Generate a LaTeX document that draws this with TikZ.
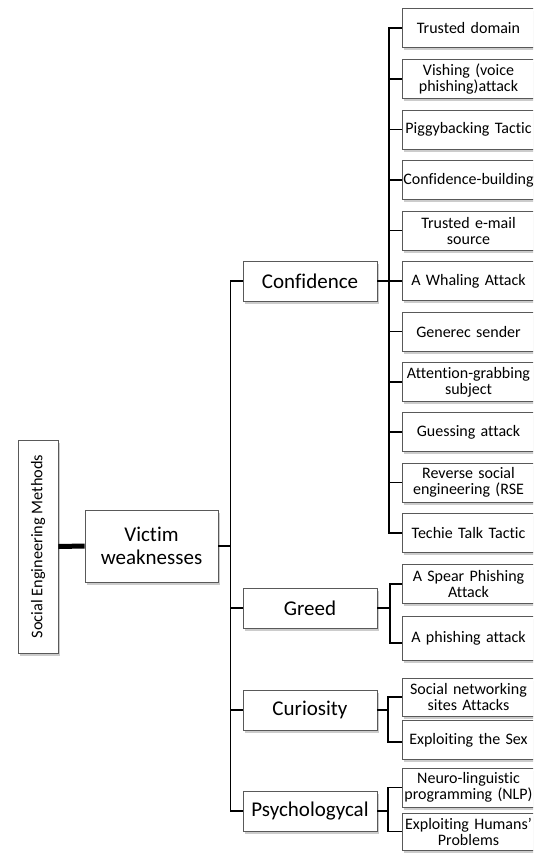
\documentclass[tikz,border=0pt]{standalone}
\usepackage{fontspec}
\setmainfont{Carlito}[Ligatures=NoCommon]
\usetikzlibrary{shadows}
\begin{document}
\begin{tikzpicture}[x=1pt,y=-1pt,
  box/.style={draw=black!65,line width=0.7pt,fill=white,align=center,inner sep=1pt,
    drop shadow={shadow xshift=2pt,shadow yshift=-2.5pt,fill=black!25,opacity=0.8}},
  rootbox/.style={box,minimum width=40pt,minimum height=213pt,font=\fontsize{16.3}{18}\selectfont},
  midbox/.style={box,minimum width=134pt,minimum height=40pt,font=\fontsize{21}{23}\selectfont},
  leafbox/.style={box,minimum width=133pt,minimum height=39pt,text width=131pt,font=\fontsize{16}{16}\selectfont},
  link/.style={line width=1.1pt,black,line cap=rect},
  thick link/.style={line width=5pt,black}]
\useasboundingbox (0,0) rectangle (533,857);
\clip (0,0) rectangle (533,857);
% root and first level
\node[rootbox] (root) at (38,546.5) {\rotatebox{90}{Social Engineering Methods}};
\node[midbox,minimum width=133pt,minimum height=72pt] (victim) at (151.5,546) {Victim\\weaknesses};
% second level
\node[midbox] (conf) at (310,281) {Confidence};
\node[midbox] (greed) at (310,608) {Greed};
\node[midbox] (cur) at (310,710) {Curiosity};
\node[midbox] (psy) at (310,811) {Psychologycal};
% leaves of Confidence
\node[leafbox] (l1) at (468.5,28) {Trusted domain};
\node[leafbox] (l2) at (468.5,79) {Vishing (voice\\phishing)attack};
\node[leafbox] (l3) at (468.5,129.5) {Piggybacking Tactic};
\node[leafbox] (l4) at (468.5,180) {Confidence-building};
\node[leafbox] (l5) at (468.5,230.5) {Trusted e-mail\\source};
\node[leafbox] (l6) at (468.5,281) {A Whaling Attack};
\node[leafbox] (l7) at (468.5,331.5) {Generec sender};
\node[leafbox] (l8) at (468.5,382) {Attention-grabbing\\subject};
\node[leafbox] (l9) at (468.5,432) {Guessing attack};
\node[leafbox] (l10) at (468.5,482.5) {Reverse social\\engineering (RSE};
\node[leafbox] (l11) at (468.5,533) {Techie Talk Tactic};
% leaves of Greed
\node[leafbox] (g1) at (468.5,584) {A Spear Phishing\\Attack};
\node[leafbox,minimum height=44pt] (g2) at (468.5,638) {A phishing attack};
% leaves of Curiosity
\node[leafbox,minimum height=38pt] (c1) at (468.5,697) {Social networking\\sites Attacks};
\node[leafbox] (c2) at (468.5,740) {Exploiting the Sex};
% leaves of Psychologycal
\node[leafbox] (p1) at (468.5,787.5) {Neuro-linguistic\\programming (NLP)};
\node[leafbox,minimum height=37pt] (p2) at (468.5,831.5) {Exploiting Humans'\\Problems};
% bus coordinates
\coordinate (busA) at (230.5,0);
\coordinate (busC) at (389,0);
\coordinate (busG) at (390,0);
\coordinate (busK) at (388,0);
% connectors
\draw[thick link] (root.east) -- (victim.west);
\draw[link] (victim.east) -- (victim.east -| busA);
\draw[link] (busA |- conf.west) -- (busA |- psy.west);
\foreach \n in {conf,greed,cur,psy} \draw[link] (busA |- \n.west) -- (\n.west);
\draw[link,line width=1.6pt] (conf.east) -- (conf.east -| busC);
\draw[link] (busC |- l1.west) -- (busC |- l11.west);
\foreach \n in {l1,l2,l3,l4,l5,l6,l7,l8,l9,l10,l11} \draw[link] (busC |- \n.west) -- (\n.west);
\draw[link] (greed.east) -- (greed.east -| busG);
\draw[link] (busG |- g1.west) -- ([yshift=-5pt]busG |- g2.west);
\draw[link] (busG |- g1.west) -- (g1.west);
\draw[link] ([yshift=-5pt]busG |- g2.west) -- ([yshift=-5pt]g2.west);
\draw[link] (cur.east) -- (cur.east -| busK);
\draw[link] (busK |- c1.west) -- ([yshift=-2pt]busK |- c2.west);
\draw[link] (busK |- c1.west) -- (c1.west);
\draw[link] ([yshift=-2pt]busK |- c2.west) -- ([yshift=-2pt]c2.west);
\draw[link] (psy.east) -- (psy.east -| busK);
\draw[link] (busK |- p1.west) -- (busK |- p2.west);
\draw[link] (busK |- p1.west) -- (p1.west);
\draw[link] (busK |- p2.west) -- (p2.west);
\end{tikzpicture}
\end{document}
